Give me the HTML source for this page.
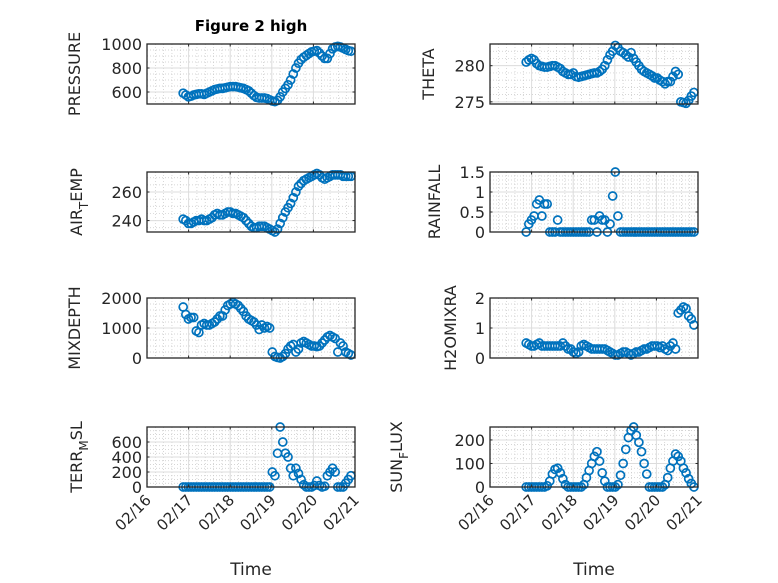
<!DOCTYPE html>
<html><head><meta charset="utf-8">
<style>
html,body{margin:0;padding:0;background:#fff;}
svg{display:block;font-family:"DejaVu Sans","Liberation Sans",sans-serif;}
</style></head>
<body>
<svg id="fig" width="778" height="583" viewBox="0 0 778 583">
<text x="251" y="31" text-anchor="middle" font-size="15" font-weight="bold" fill="#000">Figure 2 high</text>
</svg>
<script>
const tStart = 0.87;  // days after 02/16
const tStep = 0.063;
const xTickLabels = ["02/16","02/17","02/18","02/19","02/20","02/21"];
const pressure = [590,575,560,565,575,580,585,585,580,590,600,610,620,625,630,630,635,640,645,645,645,640,635,630,620,610,590,570,555,550,550,550,545,535,525,520,530,560,600,630,660,700,750,800,840,870,890,905,920,935,940,945,925,900,880,880,920,960,975,980,975,965,955,945,940];
const theta = [280.5,280.8,281,280.8,280.3,280,279.9,279.8,279.8,279.9,280,280,279.8,279.6,279.2,279,278.8,278.8,279,278.5,278.4,278.5,278.6,278.7,278.8,278.9,279,279,279.2,279.5,280,280.8,281.5,282,282.8,282.5,282,281.8,281.5,281.2,281.8,281,280.5,280,279.5,279.2,279,278.8,278.6,278.3,278.3,278,277.8,277.5,277.8,277.8,278.5,279.2,278.8,275,274.9,274.8,275.2,275.8,276.3];
const airTemp = [241,240,238,238,239,240,240,241,240,240,241,242,244,245,244,244,245,246,246,245,245,244,243,242,240,238,236,235,235,236,236,236,235,234,233,232,234,238,242,246,249,252,256,260,264,266,268,269,270,271,272,273,272,270,269,270,271,272,272,272,272,271,271,271,271];
const rainfall = [0,0.2,0.3,0.4,0.7,0.8,0.4,0.7,0.7,0,0,0,0.3,0,0,0,0,0,0,0,0,0,0,0,0,0.3,0.3,0,0.4,0.3,0.3,0,0.2,0.9,1.5,0.4,0,0,0,0,0,0,0,0,0,0,0,0,0,0,0,0,0,0,0,0,0,0,0,0,0,0,0,0,0];
const mixDepth = [1700,1450,1300,1350,1350,900,850,1100,1150,1100,1100,1150,1200,1300,1400,1400,1600,1750,1800,1850,1800,1750,1650,1550,1400,1300,1250,1200,1100,950,1100,1000,1050,1000,200,50,20,0,50,150,300,400,450,200,300,500,550,500,450,400,400,380,400,500,600,700,750,700,650,200,500,400,200,150,100];
const h2oMix = [0.5,0.45,0.4,0.4,0.45,0.5,0.4,0.4,0.4,0.4,0.4,0.4,0.4,0.4,0.5,0.4,0.3,0.3,0.2,0.15,0.2,0.4,0.45,0.4,0.35,0.3,0.3,0.3,0.3,0.3,0.3,0.25,0.2,0.15,0.1,0.1,0.15,0.2,0.2,0.15,0.1,0.15,0.2,0.2,0.25,0.3,0.3,0.35,0.4,0.4,0.4,0.35,0.4,0.3,0.25,0.4,0.5,0.3,1.5,1.6,1.7,1.65,1.4,1.3,1.1];
const terrMsl = [0,0,0,0,0,0,0,0,0,0,0,0,0,0,0,0,0,0,0,0,0,0,0,0,0,0,0,0,0,0,0,0,0,0,200,150,450,800,600,450,400,250,150,250,180,100,30,0,0,0,20,80,20,0,10,150,200,250,200,0,0,0,50,100,150];
const sunFlux = [0,0,0,0,0,0,0,0,5,25,55,75,80,60,35,10,0,0,0,0,0,0,10,40,70,100,130,150,110,60,25,0,0,0,0,10,50,100,160,210,240,255,220,190,150,100,55,0,0,0,0,0,0,10,40,80,110,140,130,110,80,60,35,15,0];

const NS='http://www.w3.org/2000/svg';
const svg=document.getElementById('fig');
function mk(tag,attrs,parent){const e=document.createElementNS(NS,tag);for(const k in attrs)e.setAttribute(k,attrs[k]);(parent||svg).appendChild(e);return e;}

const panels=[
 {key:'pressure',data:pressure,x0:147,y0:44,min:500,max:1000,ticks:[600,800,1000],labels:['600','800','1000'],minor:50,yl:['PRESSURE'],ylx:80,bottom:false},
 {key:'theta',data:theta,x0:490,y0:44,min:274.7,max:283,ticks:[275,280],labels:['275','280'],minor:1,yl:['THETA'],ylx:434,bottom:false},
 {key:'air-temp',data:airTemp,x0:147,y0:172,min:232,max:274,ticks:[240,260],labels:['240','260'],minor:5,yl:['AIR','T','EMP'],ylx:82,bottom:false},
 {key:'rainfall',data:rainfall,x0:490,y0:172,min:0,max:1.5,ticks:[0,0.5,1,1.5],labels:['0','0.5','1','1.5'],minor:0.1,yl:['RAINFALL'],ylx:440,bottom:false},
 {key:'mixdepth',data:mixDepth,x0:147,y0:298,min:0,max:2000,ticks:[0,1000,2000],labels:['0','1000','2000'],minor:200,yl:['MIXDEPTH'],ylx:80,bottom:false},
 {key:'h2omixra',data:h2oMix,x0:490,y0:298,min:0,max:2,ticks:[0,1,2],labels:['0','1','2'],minor:0.2,yl:['H2OMIXRA'],ylx:456,bottom:false},
 {key:'terr-msl',data:terrMsl,x0:147,y0:427,min:0,max:800,ticks:[0,200,400,600],labels:['0','200','400','600'],minor:50,yl:['TERR','M','SL'],ylx:82,bottom:true},
 {key:'sun-flux',data:sunFlux,x0:490,y0:427,min:0,max:255,ticks:[0,100,200],labels:['0','100','200'],minor:20,yl:['SUN','F','LUX'],ylx:402,bottom:true}
];
const W=208,H=60,DAYS=5;

panels.forEach(p=>{
 const g=mk('g',{});
 
 
 const xs=d=>p.x0+d/DAYS*W;
 const ys=v=>p.y0+H-(v-p.min)/(p.max-p.min)*H;
 mk('rect',{x:p.x0,y:p.y0,width:W,height:H,fill:'#fff'},g);
 for(let d=0.2;d<DAYS;d+=0.2){ if(Math.abs(d-Math.round(d))<0.01)continue;
  mk('line',{x1:xs(d),x2:xs(d),y1:p.y0,y2:p.y0+H,stroke:'#c8c8c8','stroke-width':0.7,'stroke-dasharray':'1,2'},g);}
 for(let v=Math.ceil(p.min/p.minor)*p.minor;v<=p.max+1e-9;v+=p.minor){
  if(p.ticks.some(t=>Math.abs(t-v)<1e-6))continue;
  mk('line',{x1:p.x0,x2:p.x0+W,y1:ys(v),y2:ys(v),stroke:'#c8c8c8','stroke-width':0.7,'stroke-dasharray':'1,2'},g);}
 for(let d=1;d<DAYS;d++) mk('line',{x1:xs(d),x2:xs(d),y1:p.y0,y2:p.y0+H,stroke:'#dcdcdc','stroke-width':1},g);
 p.ticks.forEach(t=>mk('line',{x1:p.x0,x2:p.x0+W,y1:ys(t),y2:ys(t),stroke:'#dcdcdc','stroke-width':1},g));
 const sg=mk('g',{},g);
 
 
 p.data.forEach((v,i)=>{
  const c=mk('circle',{cx:xs(tStart+i*tStep),cy:ys(v),r:4,fill:'none',stroke:'#0072BD','stroke-width':1.7},sg);
  
  
 });
 mk('rect',{x:p.x0,y:p.y0,width:W,height:H,fill:'none',stroke:'#262626','stroke-width':1.3},g);
 for(let d=0;d<=DAYS;d++){
  mk('line',{x1:xs(d),x2:xs(d),y1:p.y0+H,y2:p.y0+H-2.5,stroke:'#262626'},g);
  mk('line',{x1:xs(d),x2:xs(d),y1:p.y0,y2:p.y0+2.5,stroke:'#262626'},g);
 }
 p.ticks.forEach((t,i)=>{
  mk('line',{x1:p.x0,x2:p.x0+2.5,y1:ys(t),y2:ys(t),stroke:'#262626'},g);
  mk('line',{x1:p.x0+W,x2:p.x0+W-2.5,y1:ys(t),y2:ys(t),stroke:'#262626'},g);
  const tl=mk('text',{x:p.x0-5,y:ys(t)+6,'text-anchor':'end','font-size':16,fill:'#262626'},g);
  tl.textContent=p.labels[i];
  
  
 });
 const cy=p.y0+H/2;
 const yl=mk('text',{x:0,y:0,'text-anchor':'middle','font-size':16,fill:'#262626',transform:`translate(${p.ylx},${cy}) rotate(-90)`},g);
 
 
 if(p.yl.length===1){yl.textContent=p.yl[0];}
 else{
  const a=mk('tspan',{},yl);a.textContent=p.yl[0];
  const b=mk('tspan',{dy:6,'font-size':12},yl);b.textContent=p.yl[1];
  const c=mk('tspan',{dy:-6},yl);c.textContent=p.yl[2];
 }
 if(p.bottom){
  xTickLabels.forEach((lab,d)=>{
   const t=mk('text',{x:0,y:0,'text-anchor':'end','font-size':15,fill:'#262626',transform:`translate(${xs(d)+5},${p.y0+H+14}) rotate(-45)`},g);
   t.textContent=lab;
   
   
  });
  const xt=mk('text',{x:p.x0+W/2,y:575,'text-anchor':'middle','font-size':17,fill:'#262626'},g);
  xt.textContent='Time';
  
  
 }
});
</script>
</body></html>
